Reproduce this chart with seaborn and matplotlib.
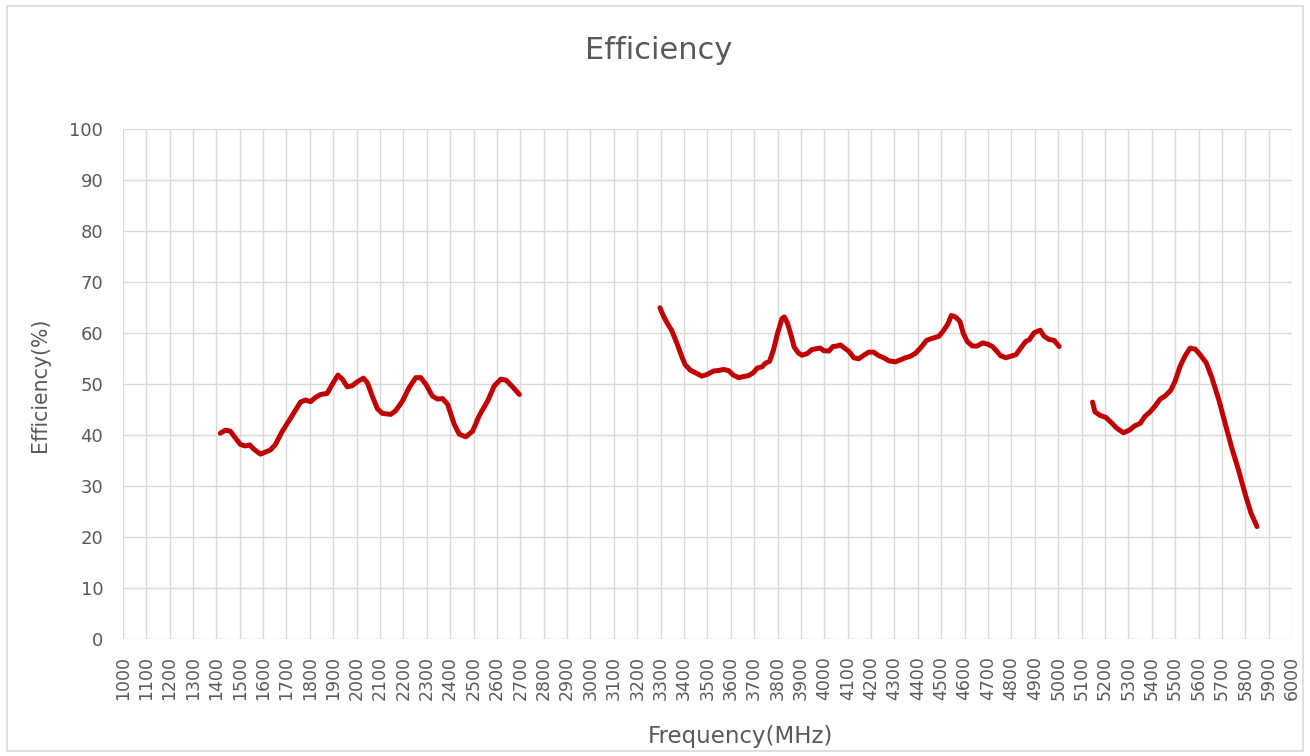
import numpy as np
import pandas as pd
import matplotlib
matplotlib.use("Agg")
import matplotlib.pyplot as plt
import seaborn as sns
from matplotlib.patches import Rectangle

# ---- data ----
freq_low = [1417, 1439, 1460, 1481, 1503, 1524, 1543, 1560, 1589, 1610, 1631, 1653, 1681, 1717,
            1760, 1781, 1803, 1824, 1846, 1874, 1896, 1920, 1939, 1960, 1981, 2003, 2029, 2046,
            2067, 2089, 2110, 2146, 2167, 2196, 2224, 2253, 2274, 2296, 2324, 2346, 2367, 2389,
            2417, 2439, 2467, 2496, 2524, 2560, 2589, 2617, 2639, 2667, 2696]
eff_low = [40.4, 41.0, 40.8, 39.5, 38.2, 37.9, 38.1, 37.3, 36.3, 36.7, 37.1, 38.2, 40.7, 43.3,
           46.5, 46.9, 46.6, 47.4, 48.0, 48.2, 50.0, 51.8, 51.0, 49.5, 49.7, 50.5, 51.2, 50.3,
           47.7, 45.2, 44.3, 44.1, 44.8, 46.7, 49.3, 51.3, 51.3, 50.0, 47.7, 47.1, 47.2, 46.1,
           42.2, 40.2, 39.7, 40.8, 43.8, 46.7, 49.7, 51.0, 50.8, 49.5, 48.0]

freq_mid = [3297, 3311, 3329, 3347, 3369, 3390, 3404, 3426, 3447, 3476, 3497, 3526, 3547, 3569,
            3590, 3611, 3633, 3654, 3676, 3697, 3714, 3733, 3747, 3766, 3783, 3800, 3819, 3829,
            3843, 3857, 3871, 3890, 3904, 3926, 3947, 3969, 3983, 3997, 4019, 4037, 4054, 4069,
            4086, 4104, 4126, 4147, 4169, 4190, 4211, 4233, 4254, 4276, 4304, 4326, 4347, 4369,
            4390, 4411, 4437, 4461, 4490, 4511, 4529, 4543, 4561, 4580, 4594, 4611, 4633, 4654,
            4676, 4697, 4719, 4737, 4754, 4776, 4797, 4819, 4840, 4861, 4876, 4897, 4923, 4940,
            4961, 4983, 5004]
eff_mid = [65.0, 63.5, 61.9, 60.6, 58.1, 55.5, 53.9, 52.8, 52.3, 51.6, 51.9, 52.6, 52.7, 52.9,
           52.7, 51.8, 51.3, 51.5, 51.7, 52.3, 53.2, 53.4, 54.1, 54.5, 56.8, 60.0, 62.9, 63.2,
           61.9, 59.7, 57.3, 56.1, 55.7, 56.0, 56.8, 57.0, 57.1, 56.6, 56.5, 57.4, 57.5, 57.7,
           57.1, 56.5, 55.2, 55.0, 55.7, 56.3, 56.3, 55.6, 55.2, 54.6, 54.4, 54.8, 55.2, 55.5,
           56.1, 57.1, 58.6, 59.0, 59.4, 60.6, 61.9, 63.5, 63.2, 62.3, 60.0, 58.4, 57.5, 57.5,
           58.1, 57.9, 57.4, 56.5, 55.6, 55.2, 55.5, 55.8, 57.1, 58.4, 58.7, 60.1, 60.6, 59.4,
           58.8, 58.6, 57.4]

freq_high = [5147, 5157, 5179, 5204, 5229, 5250, 5279, 5304, 5329, 5350, 5371, 5393, 5414, 5436,
             5457, 5481, 5500, 5521, 5543, 5564, 5586, 5607, 5633, 5657, 5686, 5714, 5743, 5771,
             5800, 5824, 5850]
eff_high = [46.5, 44.6, 43.9, 43.5, 42.4, 41.4, 40.5, 41.0, 41.9, 42.3, 43.7, 44.6, 45.7, 47.1,
            47.7, 48.8, 50.6, 53.5, 55.6, 57.1, 56.9, 55.8, 54.2, 51.3, 47.1, 42.3, 37.4, 33.2,
            28.4, 24.8, 22.1]

x_ticks = list(range(1000, 6001, 100))
y_ticks = list(range(0, 101, 10))

title = "Efficiency"
x_label = "Frequency(MHz)"
y_label = "Efficiency(%)"

# ---- styling ----
sns.set_theme(style="white")
plt.rcParams['font.family'] = ['DejaVu Sans']
text_color = "#595959"
grid_color = "#d9d9d9"
line_color = "#c00000"

fig = plt.figure(figsize=(13.10, 7.56), dpi=100)
ax = fig.add_axes([0.0937, 0.1544, 0.8926, 0.6746])

segments = [(freq_low, eff_low), (freq_mid, eff_mid), (freq_high, eff_high)]
for fx, fy in segments:
    df = pd.DataFrame({"freq": fx, "eff": fy})
    sns.lineplot(data=df, x="freq", y="eff", ax=ax, color=line_color, linewidth=3.6,
                 estimator=None, sort=False, solid_capstyle="round", solid_joinstyle="round")

ax.set_xlim(1000, 6000)
ax.set_ylim(0, 100)
ax.set_xticks(x_ticks)
ax.set_xticklabels([str(v) for v in x_ticks], rotation=90)
ax.set_yticks(y_ticks)
ax.grid(True, color=grid_color, linewidth=1.0)
ax.set_axisbelow(True)
for s in ax.spines.values():
    s.set_visible(False)
ax.tick_params(axis="both", length=0, labelsize=13, labelcolor=text_color, pad=14)
ax.tick_params(axis="x", labelsize=12.5, pad=12)

ax.set_xlabel(x_label, fontsize=16.5, color=text_color)
ax.xaxis.set_label_coords(0.528, -0.168)
ax.set_ylabel(y_label, fontsize=14.8, color=text_color, labelpad=14)
fig.text(0.503, 0.933, title, ha="center", va="center", fontsize=22, color=text_color)

# outer border
fig.patches.append(Rectangle((0.005, 0.006), 0.99, 0.986, transform=fig.transFigure,
                             fill=False, edgecolor=grid_color, linewidth=1.2))

fig.savefig("out.png", dpi=100)
